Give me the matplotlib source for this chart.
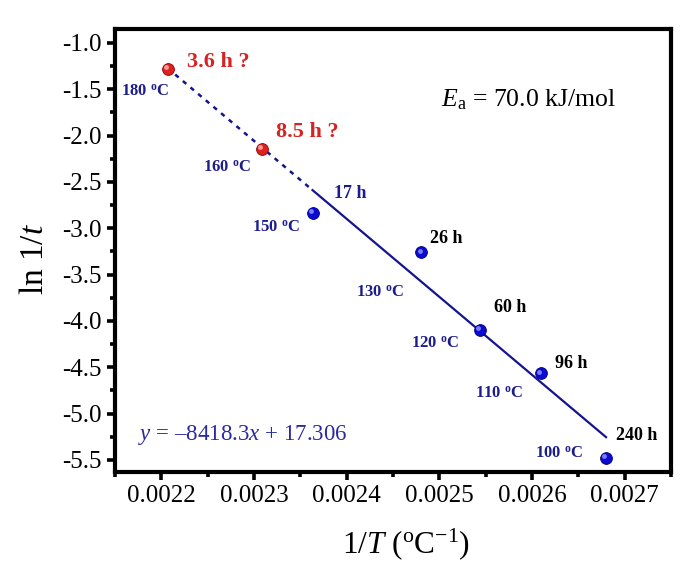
import matplotlib
matplotlib.use("Agg")
import matplotlib.pyplot as plt
import matplotlib.transforms as mtransforms
from matplotlib.ticker import MultipleLocator, FormatStrFormatter

# data: temperatures (degC), measured / predicted times (h), 1/T in K^-1
temps_meas = [150, 130, 120, 110, 100]
inv_T_meas = [0.0023632, 0.0024805, 0.0025436, 0.0026099, 0.0026799]
ln_inv_t_meas = [-2.833, -3.258, -4.094, -4.564, -5.481]
time_labels_meas = ["17 h", "26 h", "60 h", "96 h", "240 h"]

temps_pred = [180, 160]
inv_T_pred = [0.0022068, 0.0023087]
ln_inv_t_pred = [-1.281, -2.140]
time_labels_pred = ["3.6 h ?", "8.5 h ?"]

# linear fit shown on the chart
fit_slope = -8418.3
fit_intercept = 17.306
activation_energy = 70.0

x_ticks = [0.0022, 0.0023, 0.0024, 0.0025, 0.0026, 0.0027]
y_ticks = [-1.0, -1.5, -2.0, -2.5, -3.0, -3.5, -4.0, -4.5, -5.0, -5.5]

plt.rcParams["font.family"] = "Liberation Serif"
plt.rcParams["mathtext.fontset"] = "custom"
plt.rcParams["mathtext.rm"] = "Liberation Serif"
plt.rcParams["mathtext.it"] = "Liberation Serif:italic"
plt.rcParams["mathtext.bf"] = "Liberation Serif:bold"
plt.rcParams["axes.unicode_minus"] = False

NAVY = "#1c1c8c"
LINE = "#14148f"
RED = "#d42424"

fig = plt.figure(figsize=(6.84, 5.70), dpi=100)
ax = fig.add_axes([0.168, 0.172, 0.813, 0.777])

# fit line: solid over the measured range, dashed for extrapolation
x_solid = [inv_T_meas[0], inv_T_meas[-1]]
x_dash = [inv_T_pred[0], inv_T_meas[0]]
ax.plot(x_solid, [fit_slope * v + fit_intercept for v in x_solid],
        color=LINE, lw=1.6, zorder=2)
ax.plot(x_dash, [fit_slope * v + fit_intercept for v in x_dash],
        color=LINE, lw=1.8, linestyle=(0, (1.8, 2.2)), zorder=2)

# sphere-like markers
hl = mtransforms.offset_copy(ax.transData, fig=fig, x=-1.2, y=1.2, units="points")
ax.plot(inv_T_meas, ln_inv_t_meas, "o", ms=8.5, color="#0a0ad0", mec="#00007a", mew=0.6, zorder=3)
ax.plot(inv_T_meas, ln_inv_t_meas, "o", ms=3.5, color="#7a7aff", mew=0, zorder=4, transform=hl)
ax.plot(inv_T_pred, ln_inv_t_pred, "o", ms=8.5, color="#e02020", mec="#8a0000", mew=0.6, zorder=3)
ax.plot(inv_T_pred, ln_inv_t_pred, "o", ms=3.5, color="#ff9a9a", mew=0, zorder=4, transform=hl)

# label offsets in points (temperature label, time label)
temp_off_meas = [(-26, -11), (-30, -29), (-32, -10), (-30, -15), (-34, 3)]
time_off_meas = [(27, 14), (18, 10), (22, 16), (22, 7), (22, 16)]
time_col_meas = [NAVY, "black", "black", "black", "black"]
temp_off_pred = [(-16, -16), (-25, -14)]
time_off_pred = [(14, 5), (10, 12)]

for x, y, tc, lab, to, lo, col in zip(inv_T_meas, ln_inv_t_meas, temps_meas, time_labels_meas,
                                       temp_off_meas, time_off_meas, time_col_meas):
    ax.annotate(f"{tc} " + r"$^{\mathbf{o}}$C", (x, y), xytext=to, textcoords="offset points",
                ha="center", va="center", fontsize=12, fontweight="bold", color=NAVY)
    ax.annotate(lab, (x, y), xytext=lo, textcoords="offset points",
                ha="center", va="center", fontsize=13, fontweight="bold", color=col)

for x, y, tc, lab, to, lo in zip(inv_T_pred, ln_inv_t_pred, temps_pred, time_labels_pred,
                                  temp_off_pred, time_off_pred):
    ax.annotate(f"{tc} " + r"$^{\mathbf{o}}$C", (x, y), xytext=to, textcoords="offset points",
                ha="center", va="center", fontsize=12, fontweight="bold", color=NAVY)
    ax.annotate(lab, (x, y), xytext=lo, textcoords="offset points",
                ha="left", va="center", fontsize=16, fontweight="bold", color=RED)

ax.text(0.586, 0.84, r"$E_{\mathrm{a}}$ = " + f"{activation_energy:.1f} kJ/mol",
        transform=ax.transAxes, ha="left", va="center", fontsize=18.5)
ax.text(0.041, 0.084, r"$y$ = –" + f"{abs(fit_slope):.1f}" + r"$x$ + " + f"{fit_intercept:.3f}",
        transform=ax.transAxes, ha="left", va="center", fontsize=16.5, color="#2a2aa0")

ax.set_xlim(0.00215, 0.00275)
ax.set_ylim(-5.63, -0.85)
ax.set_xticks(x_ticks)
ax.set_yticks(y_ticks)
ax.xaxis.set_major_formatter(FormatStrFormatter("%.4f"))
ax.yaxis.set_major_formatter(FormatStrFormatter("%.1f"))
ax.xaxis.set_minor_locator(MultipleLocator(0.00005))
ax.yaxis.set_minor_locator(MultipleLocator(0.25))

for s in ax.spines.values():
    s.set_linewidth(3)
ax.tick_params(which="major", direction="out", length=6, width=2.6, labelsize=18,
               top=False, right=False)
ax.tick_params(which="minor", direction="out", length=3.5, width=2.6, top=False, right=False)

ax.set_xlabel(r"1/$T$ ($^{\mathrm{o}}$C$^{-1}$)", fontsize=22.5)
ax.set_ylabel(r"ln 1/$t$", fontsize=24)
ax.xaxis.set_label_coords(0.523, -0.122)
ax.yaxis.set_label_coords(-0.117, 0.481)

fig.savefig("out.png", dpi=100)
